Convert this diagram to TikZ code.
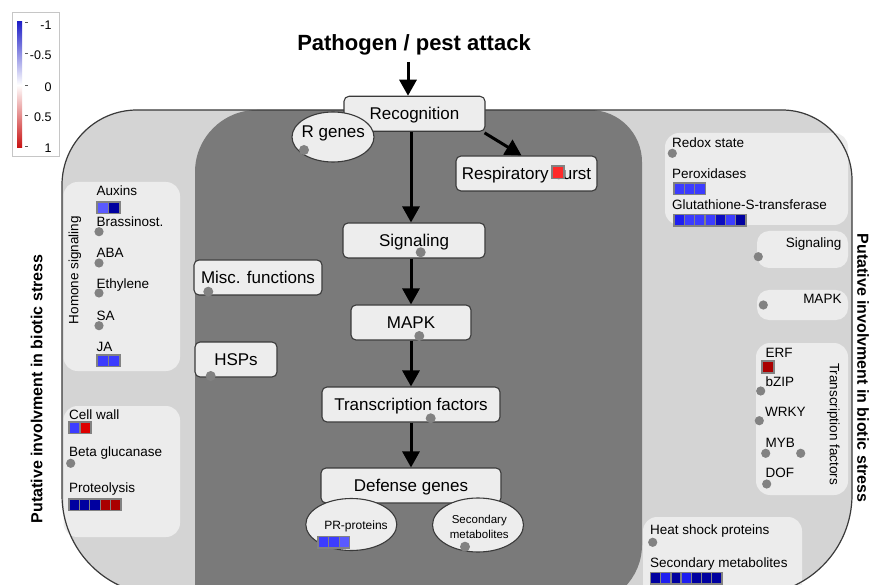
\documentclass[tikz,border=0pt]{standalone}
\usepackage{fontspec}
\setmainfont{Liberation Sans}
\usetikzlibrary{arrows.meta,shapes.geometric}
\definecolor{outerc}{HTML}{D4D4D4}
\definecolor{darkc}{HTML}{7A7A7A}
\definecolor{panelc}{HTML}{ECECEC}
\definecolor{boxc}{HTML}{EDEDED}
\definecolor{dotc}{HTML}{828282}
\definecolor{bordc}{HTML}{3A3A3A}
\definecolor{bA}{HTML}{0000A0}
\definecolor{bB}{HTML}{1E1EF0}
\definecolor{bC}{HTML}{3C3CFF}
\definecolor{bD}{HTML}{5A5AFF}
\definecolor{rA}{HTML}{AA0000}
\definecolor{rB}{HTML}{DD0000}
\definecolor{rC}{HTML}{FF2A2A}
\definecolor{legtop}{HTML}{2020C8}
\definecolor{legbot}{HTML}{C81010}
\newcommand{\cellbar}[4]{% x, y(top), cell width, colour list
  \foreach \cc [count=\ci from 0] in {#4}{
    \filldraw[fill=\cc, draw=dotc, line width=1.3pt] ({#1+\ci*#3},#2) rectangle ++(#3,11.5);
  }}
\tikzset{
  box/.style={draw=bordc, fill=boxc, rounded corners=5pt, line width=1.1pt, inner sep=0pt,
              text height=12.2pt, text depth=0pt, font=\fontsize{17}{20}\selectfont},
  ell/.style={ellipse, draw=bordc, fill=boxc, line width=1.1pt, inner sep=0pt},
  lbl/.style={anchor=west, inner sep=0pt, text height=9.7pt, text depth=0pt,
              font=\fontsize{13.5}{16}\selectfont},
  lblr/.style={lbl, anchor=east},
  leglbl/.style={anchor=east, inner sep=0pt, text height=9pt, text depth=0pt,
              font=\fontsize{12.5}{15}\selectfont},
  arr/.style={line width=3pt, -{Triangle[width=17pt,length=16pt]}},
  panel/.style={fill=panelc, rounded corners=14pt},
  vlab/.style={inner sep=0pt, font=\fontsize{16}{18}\selectfont\bfseries},
  rlab/.style={inner sep=0pt, font=\fontsize{13.5}{16}\selectfont},
  gdot/.style={fill=dotc}
}
\begin{document}
\begin{tikzpicture}[x=1pt,y=-1pt]
\useasboundingbox (0,0) rectangle (870,585);
\clip (0,0) rectangle (870,585);
\fill[white] (0,0) rectangle (870,585);
% outer region
\fill[outerc] (62,185) .. controls (62,143.6) and (95.6,110) .. (137,110) -- (782,110)
  .. controls (820.7,110) and (852,141.3) .. (852,180) -- (852,495)
  .. controls (852,550.2) and (807.2,595) .. (752,595) -- (162,595)
  .. controls (106.8,595) and (62,550.2) .. (62,495) -- cycle;
% dark region
\fill[darkc] (195,172) .. controls (195,137.8) and (222.8,110) .. (257,110) -- (590,110)
  .. controls (618.7,110) and (642,133.3) .. (642,162) -- (642,545)
  .. controls (642,578.1) and (615.1,605) .. (582,605) -- (195,605) -- cycle;
% panels
\fill[panel] (63.5,182) rectangle (180,371);
\fill[panel] (63.5,406) rectangle (180,537);
\fill[panel] (665,133) rectangle (848,225);
\fill[panel, rounded corners=12pt] (757,231) rectangle (848,268);
\fill[panel, rounded corners=12pt] (757,290) rectangle (848,320);
\fill[panel] (756,343) rectangle (848,495);
\fill[panel] (643,517) rectangle (802,610);
% outer border
\draw[bordc, line width=1.2pt] (62,185) .. controls (62,143.6) and (95.6,110) .. (137,110) -- (782,110)
  .. controls (820.7,110) and (852,141.3) .. (852,180) -- (852,495)
  .. controls (852,550.2) and (807.2,595) .. (752,595) -- (162,595)
  .. controls (106.8,595) and (62,550.2) .. (62,495) -- cycle;

% legend
\draw[gray!45, line width=1pt] (12,13) rectangle (59,157);
\shade[top color=legtop, bottom color=legbot, middle color=white] (17,22) rectangle (22,148);
\foreach \yy in {22.7,53.3,86,116,146.7}{\draw[gray!70!black, line width=1pt] (25,\yy) -- (27.5,\yy);}
\node[leglbl] (l1) at (51.7,25) {-1};
\node[leglbl] (l2) at (51.7,55) {-0.5};
\node[leglbl] (l3) at (51.7,86.7) {0};
\node[leglbl] (l4) at (51.7,117.3) {0.5};
\node[leglbl] (l5) at (51.7,148.3) {1};

% title
\node[inner sep=0pt, font=\fontsize{22}{26}\selectfont\bfseries] (title) at (414,45) {Pathogen / pest attack};
\coordinate (ta) at (408,62);
\coordinate (ax) at (411,0);

% central boxes
\node[box, minimum width=141pt, minimum height=35pt] (rec) at (414.5,113.8) {Recognition};
\node[box, minimum width=141pt, minimum height=35pt] (resp) at (526.5,173.5) {Respiratory burst};
\node[box, minimum width=142pt, minimum height=35pt] (sig) at (414,240.5) {Signaling};
\node[box, minimum width=128pt, minimum height=35pt] (misc) at (258,277.5) {Misc. functions};
\node[box, minimum width=120pt, minimum height=35pt] (mapk) at (411,322.5) {MAPK};
\node[box, minimum width=82pt, minimum height=35pt] (hsp) at (236,359.5) {HSPs};
\node[box, minimum width=178pt, minimum height=35pt] (tf) at (411,404.5) {Transcription factors};
\node[box, minimum width=180pt, minimum height=35pt] (def) at (411,485.5) {Defense genes};

% arrows
\draw[arr] (ta) -- (ta |- rec.north);
\draw[arr] (rec.south -| ax) -- (sig.north -| ax);
\draw[arr] (sig.south -| ax) -- (mapk.north -| ax);
\draw[arr] (mapk.south -| ax) -- (tf.north -| ax);
\draw[arr] (tf.south -| ax) -- (def.north -| ax);
\draw[arr] ([xshift=-1pt,yshift=-1pt]rec.south east) -- ([xshift=-5pt]resp.north);

% ellipses
\node[ell, minimum width=82pt, minimum height=50pt] (rg) at (333,137) {};
\node[inner sep=0pt, font=\fontsize{17}{20}\selectfont] (rgt) at (333.3,133.3) {R genes};
\node[ell, minimum width=91pt, minimum height=52pt] (pr) at (351.3,524.5) {};
\node[inner sep=0pt, font=\fontsize{12}{14}\selectfont] (prt) at (356,526.7) {PR-proteins};
\node[ell, minimum width=91pt, minimum height=54pt] (sm) at (478,525) {};
\node[inner sep=0pt, align=center, font=\fontsize{11.5}{14.5}\selectfont] (smt) at (479.3,526.7) {Secondary\\metabolites};

% red cell in respiratory burst
\filldraw[fill=rC, draw=dotc, line width=1.3pt] (552,166) rectangle (564,178.3);

% dots on central items
\foreach \p in {(304,150),(420.7,252.3),(208.3,291.7),(419.3,336),(210.7,376),(430.7,418.3),(465,546.7)}{
  \fill[gdot] \p circle (5);}

% left hormone panel
\node[rlab, rotate=90] (hs) at (75,270) {Homone signaling};
\node[lbl] (aux) at (96.5,190.7) {Auxins};
\node[lbl] (bra) at (96.5,221.7) {Brassinost.};
\node[lbl] (aba) at (96.5,252.7) {ABA};
\node[lbl] (eth) at (96.5,284) {Ethylene};
\node[lbl] (sa) at (96.5,315.7) {SA};
\node[lbl] (ja) at (96.5,346.7) {JA};
\cellbar{97}{202}{11.5}{bD,bA}
\cellbar{97}{355}{11.5}{bC,bC}
\foreach \p in {(99,231.7),(99,263),(99,293),(99,325.7)}{\fill[gdot] \p circle (4.6);}

% left lower panel
\node[lbl] (cw) at (69,415) {Cell wall};
\node[lbl] (bg) at (69,451.7) {Beta glucanase};
\node[lbl] (pro) at (69,487.3) {Proteolysis};
\cellbar{69}{422}{11}{bC,rB}
\cellbar{69}{499}{10.4}{bA,bA,bA,rA,rA}
\fill[gdot] (70.7,463.3) circle (4.6);

% right top panel
\node[lbl] (rs) at (672,142.3) {Redox state};
\node[lbl] (px) at (672,173.3) {Peroxidases};
\node[lbl] (gst) at (672,204.3) {Glutathione-S-transferase};
\fill[gdot] (672.3,153.3) circle (4.6);
\cellbar{674}{183}{10.4}{bC,bC,bC}
\cellbar{674}{214.5}{10.3}{bB,bC,bC,bC,bA!60!bB,bC,bA}

% right signaling / MAPK
\node[lblr] (rsig) at (841.7,242.7) {Signaling};
\node[lblr] (rmapk) at (841.7,298.3) {MAPK};
\fill[gdot] (758.3,256.7) circle (4.6);
\fill[gdot] (763.3,305) circle (4.6);

% right TF panel
\node[rlab, rotate=-90] (tft) at (833.3,424) {Transcription factors};
\node[lbl] (erf) at (765.5,352.7) {ERF};
\node[lbl] (bzip) at (765.5,381.7) {bZIP};
\node[lbl] (wrky) at (765,411.7) {WRKY};
\node[lbl] (myb) at (765.5,442.7) {MYB};
\node[lbl] (dof) at (765.5,472.7) {DOF};
\filldraw[fill=rA, draw=dotc, line width=1.3pt] (762,361) rectangle (774,373);
\foreach \p in {(760.7,391),(759.3,420.7),(765.7,453.3),(800.7,453.3),(766.7,484)}{\fill[gdot] \p circle (4.6);}

% right bottom panel
\node[lbl] (hsp2) at (650,530) {Heat shock proteins};
\node[lbl] (sec2) at (650,562.7) {Secondary metabolites};
\fill[gdot] (652.7,542.3) circle (4.6);
\cellbar{650.5}{572.5}{10.2}{bA,bB,bA,bB,bA,bA,bA}

% PR-proteins bar
\cellbar{318}{536.5}{10.6}{bC,bC,bD}

% vertical side labels
\node[vlab, rotate=90] (leftlab) at (36.7,389) {Putative involvment in biotic stress};
\node[vlab, rotate=-90] (rightlab) at (863,368) {Putative involvment in biotic stress};
\end{tikzpicture}
\end{document}
